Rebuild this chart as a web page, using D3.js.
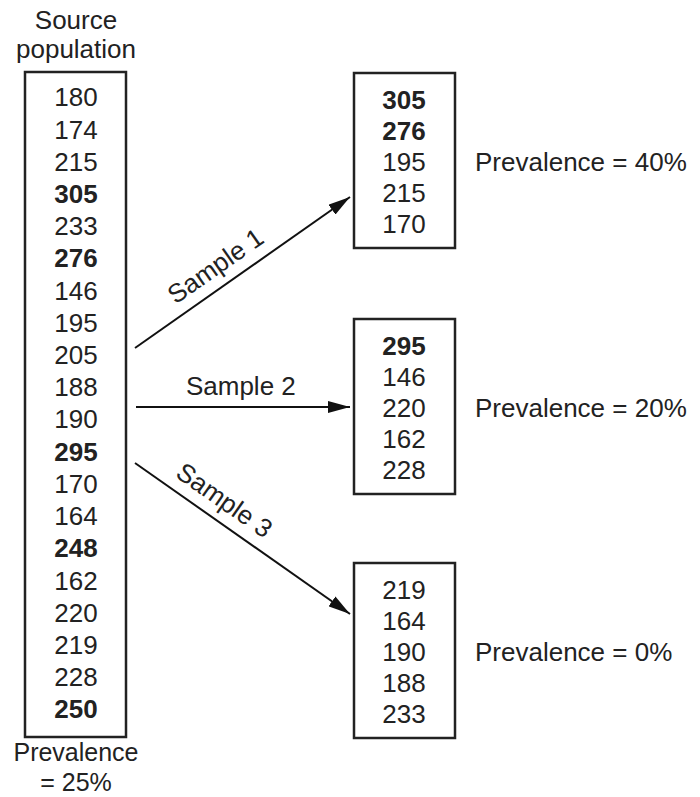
<!DOCTYPE html>
<html>
<head>
<meta charset="utf-8">
<script src="https://cdn.jsdelivr.net/npm/d3@7"></script>
<style>
  body { margin: 0; background: #fff; }
  text { font-family: "Liberation Sans", Arial, sans-serif; fill: #222; }
</style>
</head>
<body>
<svg id="chart" width="700" height="797"></svg>
<script>
// data
const sourcePopulation = [180, 174, 215, 305, 233, 276, 146, 195, 205, 188,
                          190, 295, 170, 164, 248, 162, 220, 219, 228, 250];
const cases = [305, 276, 295, 248, 250]; // shown in bold
const sampleNames = ["Sample 1", "Sample 2", "Sample 3"];
const sample1 = [305, 276, 195, 215, 170];
const sample2 = [295, 146, 220, 162, 228];
const sample3 = [219, 164, 190, 188, 233];
const samplePrevalence = ["40%", "20%", "0%"];
const sourcePrevalence = "25%";

const samples = [sample1, sample2, sample3];

let svg = d3.select("#chart");
const fontSize = 26;

// marker for arrows
svg.append("defs").append("marker")
    .attr("id", "head")
    .attr("viewBox", "0 0 22 12")
    .attr("refX", 22).attr("refY", 6)
    .attr("markerWidth", 22).attr("markerHeight", 12)
    .attr("markerUnits", "userSpaceOnUse")
    .attr("orient", "auto")
    .append("path")
    .attr("d", "M0,0 L22,6 L0,12 Z")
    .attr("fill", "#111");

// source column
let srcX = d3.scaleLinear().domain([0, 1]).range([25, 126]);
let srcY = d3.scalePoint().domain(d3.range(sourcePopulation.length)).range([97, 709]);

svg.append("text").attr("x", 76).attr("y", 29).attr("text-anchor", "middle")
    .attr("font-size", fontSize).text("Source");
svg.append("text").attr("x", 76).attr("y", 58).attr("text-anchor", "middle")
    .attr("font-size", fontSize).text("population");

svg.append("rect")
    .attr("x", srcX(0)).attr("y", 72)
    .attr("width", srcX(1) - srcX(0)).attr("height", 737 - 72)
    .attr("fill", "none").attr("stroke", "#222").attr("stroke-width", 2.5);

svg.selectAll(".src")
    .data(sourcePopulation)
    .join("text")
    .attr("class", "src")
    .attr("x", 76)
    .attr("y", (d, i) => srcY(i))
    .attr("dy", "0.36em")
    .attr("text-anchor", "middle")
    .attr("font-size", fontSize)
    .attr("font-weight", d => cases.includes(d) ? "bold" : "normal")
    .text(d => d);

svg.append("text").attr("x", 76).attr("y", 761).attr("text-anchor", "middle")
    .attr("font-size", 25).text("Prevalence");
svg.append("text").attr("x", 76).attr("y", 791).attr("text-anchor", "middle")
    .attr("font-size", 25).text("= " + sourcePrevalence);

// sample boxes
const boxTop = [73, 319, 563];
const boxH = 175;
let boxX = d3.scaleLinear().domain([0, 1]).range([354, 455]);

samples.forEach((s, k) => {
    let g = svg.append("g");
    let y = d3.scalePoint().domain(d3.range(s.length))
        .range([boxTop[k] + 27, boxTop[k] + boxH - 24]);

    g.append("rect")
        .attr("x", boxX(0)).attr("y", boxTop[k])
        .attr("width", boxX(1) - boxX(0)).attr("height", boxH)
        .attr("fill", "none").attr("stroke", "#222").attr("stroke-width", 2.5);

    g.selectAll("text.v")
        .data(s)
        .join("text")
        .attr("class", "v")
        .attr("x", 404)
        .attr("y", (d, i) => y(i))
        .attr("dy", "0.36em")
        .attr("text-anchor", "middle")
        .attr("font-size", fontSize)
        .attr("font-weight", d => cases.includes(d) ? "bold" : "normal")
        .text(d => d);

    g.append("text")
        .attr("x", 475)
        .attr("y", y(2))
        .attr("dy", "0.36em")
        .attr("font-size", fontSize)
        .text("Prevalence = " + samplePrevalence[k]);
});

// arrows
const arrowFrom = [[135, 348], [136, 407], [135, 463]];
const arrowTo = [[350, 197], [350, 407], [350, 614]];
const labelAt = [0.43, 0.49, 0.36];

sampleNames.forEach((name, k) => {
    let [x1, y1] = arrowFrom[k], [x2, y2] = arrowTo[k];
    svg.append("line")
        .attr("x1", x1).attr("y1", y1).attr("x2", x2).attr("y2", y2)
        .attr("stroke", "#111").attr("stroke-width", 2)
        .attr("marker-end", "url(#head)");

    let t = labelAt[k];
    let px = x1 + (x2 - x1) * t, py = y1 + (y2 - y1) * t;
    let angle = Math.atan2(y2 - y1, x2 - x1) * 180 / Math.PI;
    svg.append("text")
        .attr("transform", `translate(${px},${py}) rotate(${angle})`)
        .attr("y", -12)
        .attr("text-anchor", "middle")
        .attr("font-size", fontSize)
        .text(name);
});
</script>
</body>
</html>
